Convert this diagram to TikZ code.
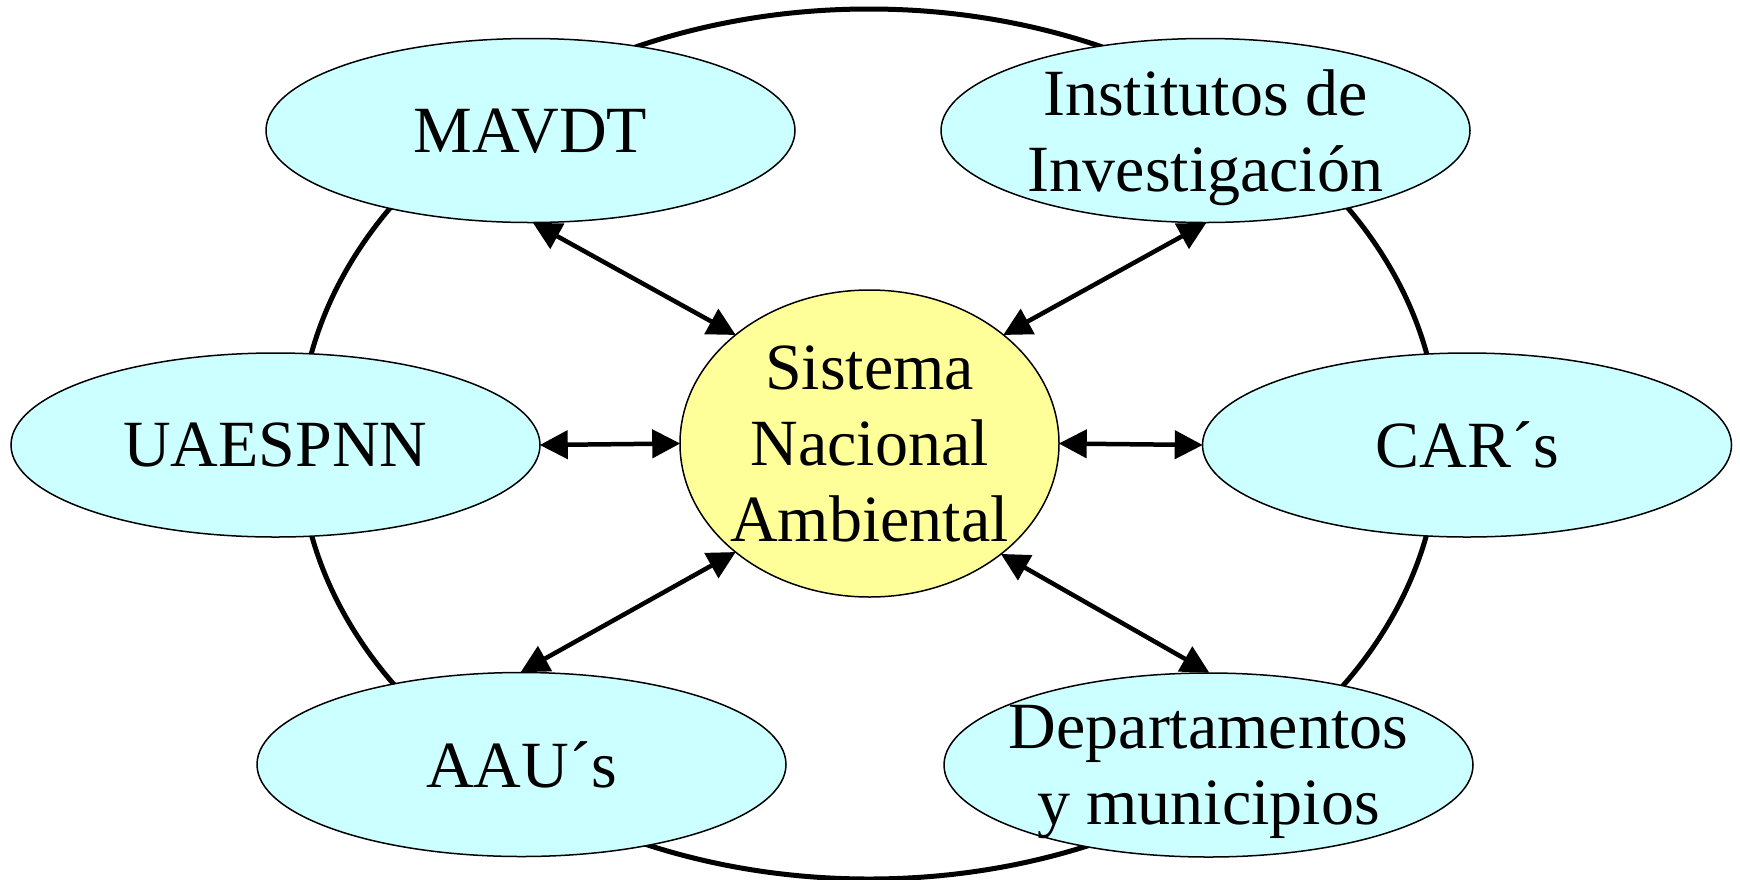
\documentclass[tikz,border=0pt]{standalone}
\usepackage{fontspec}
\setmainfont{Liberation Serif}
\usetikzlibrary{shapes.geometric,arrows.meta}
\definecolor{lcyan}{HTML}{CCFFFF}
\definecolor{lyellow}{HTML}{FFFF99}
\begin{document}
\begin{tikzpicture}[x=1pt,y=-1pt,
  outer/.style={ellipse,draw=black,line width=1.5pt,fill=lcyan,minimum width=529pt,minimum height=184pt,inner sep=-40pt,text depth=0pt,align=center,font=\fontsize{66}{76}\selectfont},
  core/.style={ellipse,draw=black,line width=1.5pt,fill=lyellow,minimum width=379pt,minimum height=307pt,inner sep=-40pt,text depth=0pt,align=center,font=\fontsize{66}{76}\selectfont},
  ring/.style={draw=black,line width=5pt},
  link/.style={draw=black,line width=4.5pt,{Triangle[length=28pt,width=28pt]}-{Triangle[length=28pt,width=28pt]},shorten <=-1pt,shorten >=-1pt}]
\useasboundingbox (0,0) rectangle (1740,879);
\node[ellipse,ring,minimum width=1140pt,minimum height=870pt,inner sep=0pt] (big) at (869,444) {};
\node[outer] (mavdt) at (530.5,130.5) {MAVDT};
\node[outer] (inst) at (1205.5,130.5) {Institutos de\\Investigación};
\node[outer] (uae) at (275.5,445) {UAESPNN};
\node[outer] (car) at (1467,445) {CAR´s};
\node[outer] (aau) at (521.5,764.5) {AAU´s};
\node[outer] (dep) at (1208.5,765) {Departamentos\\y municipios};
\node[core] (sna) at (869.5,443.5) {Sistema\\Nacional\\Ambiental};
\draw[link] (mavdt.-88) -- (sna.141);
\draw[link] (inst.-90) -- (sna.39);
\draw[link] (uae.east) -- (sna.west);
\draw[link] (sna.east) -- (car.west);
\draw[link] (aau.90) -- (sna.-141);
\draw[link] (sna.-40) -- (dep.90);
\end{tikzpicture}
\end{document}
